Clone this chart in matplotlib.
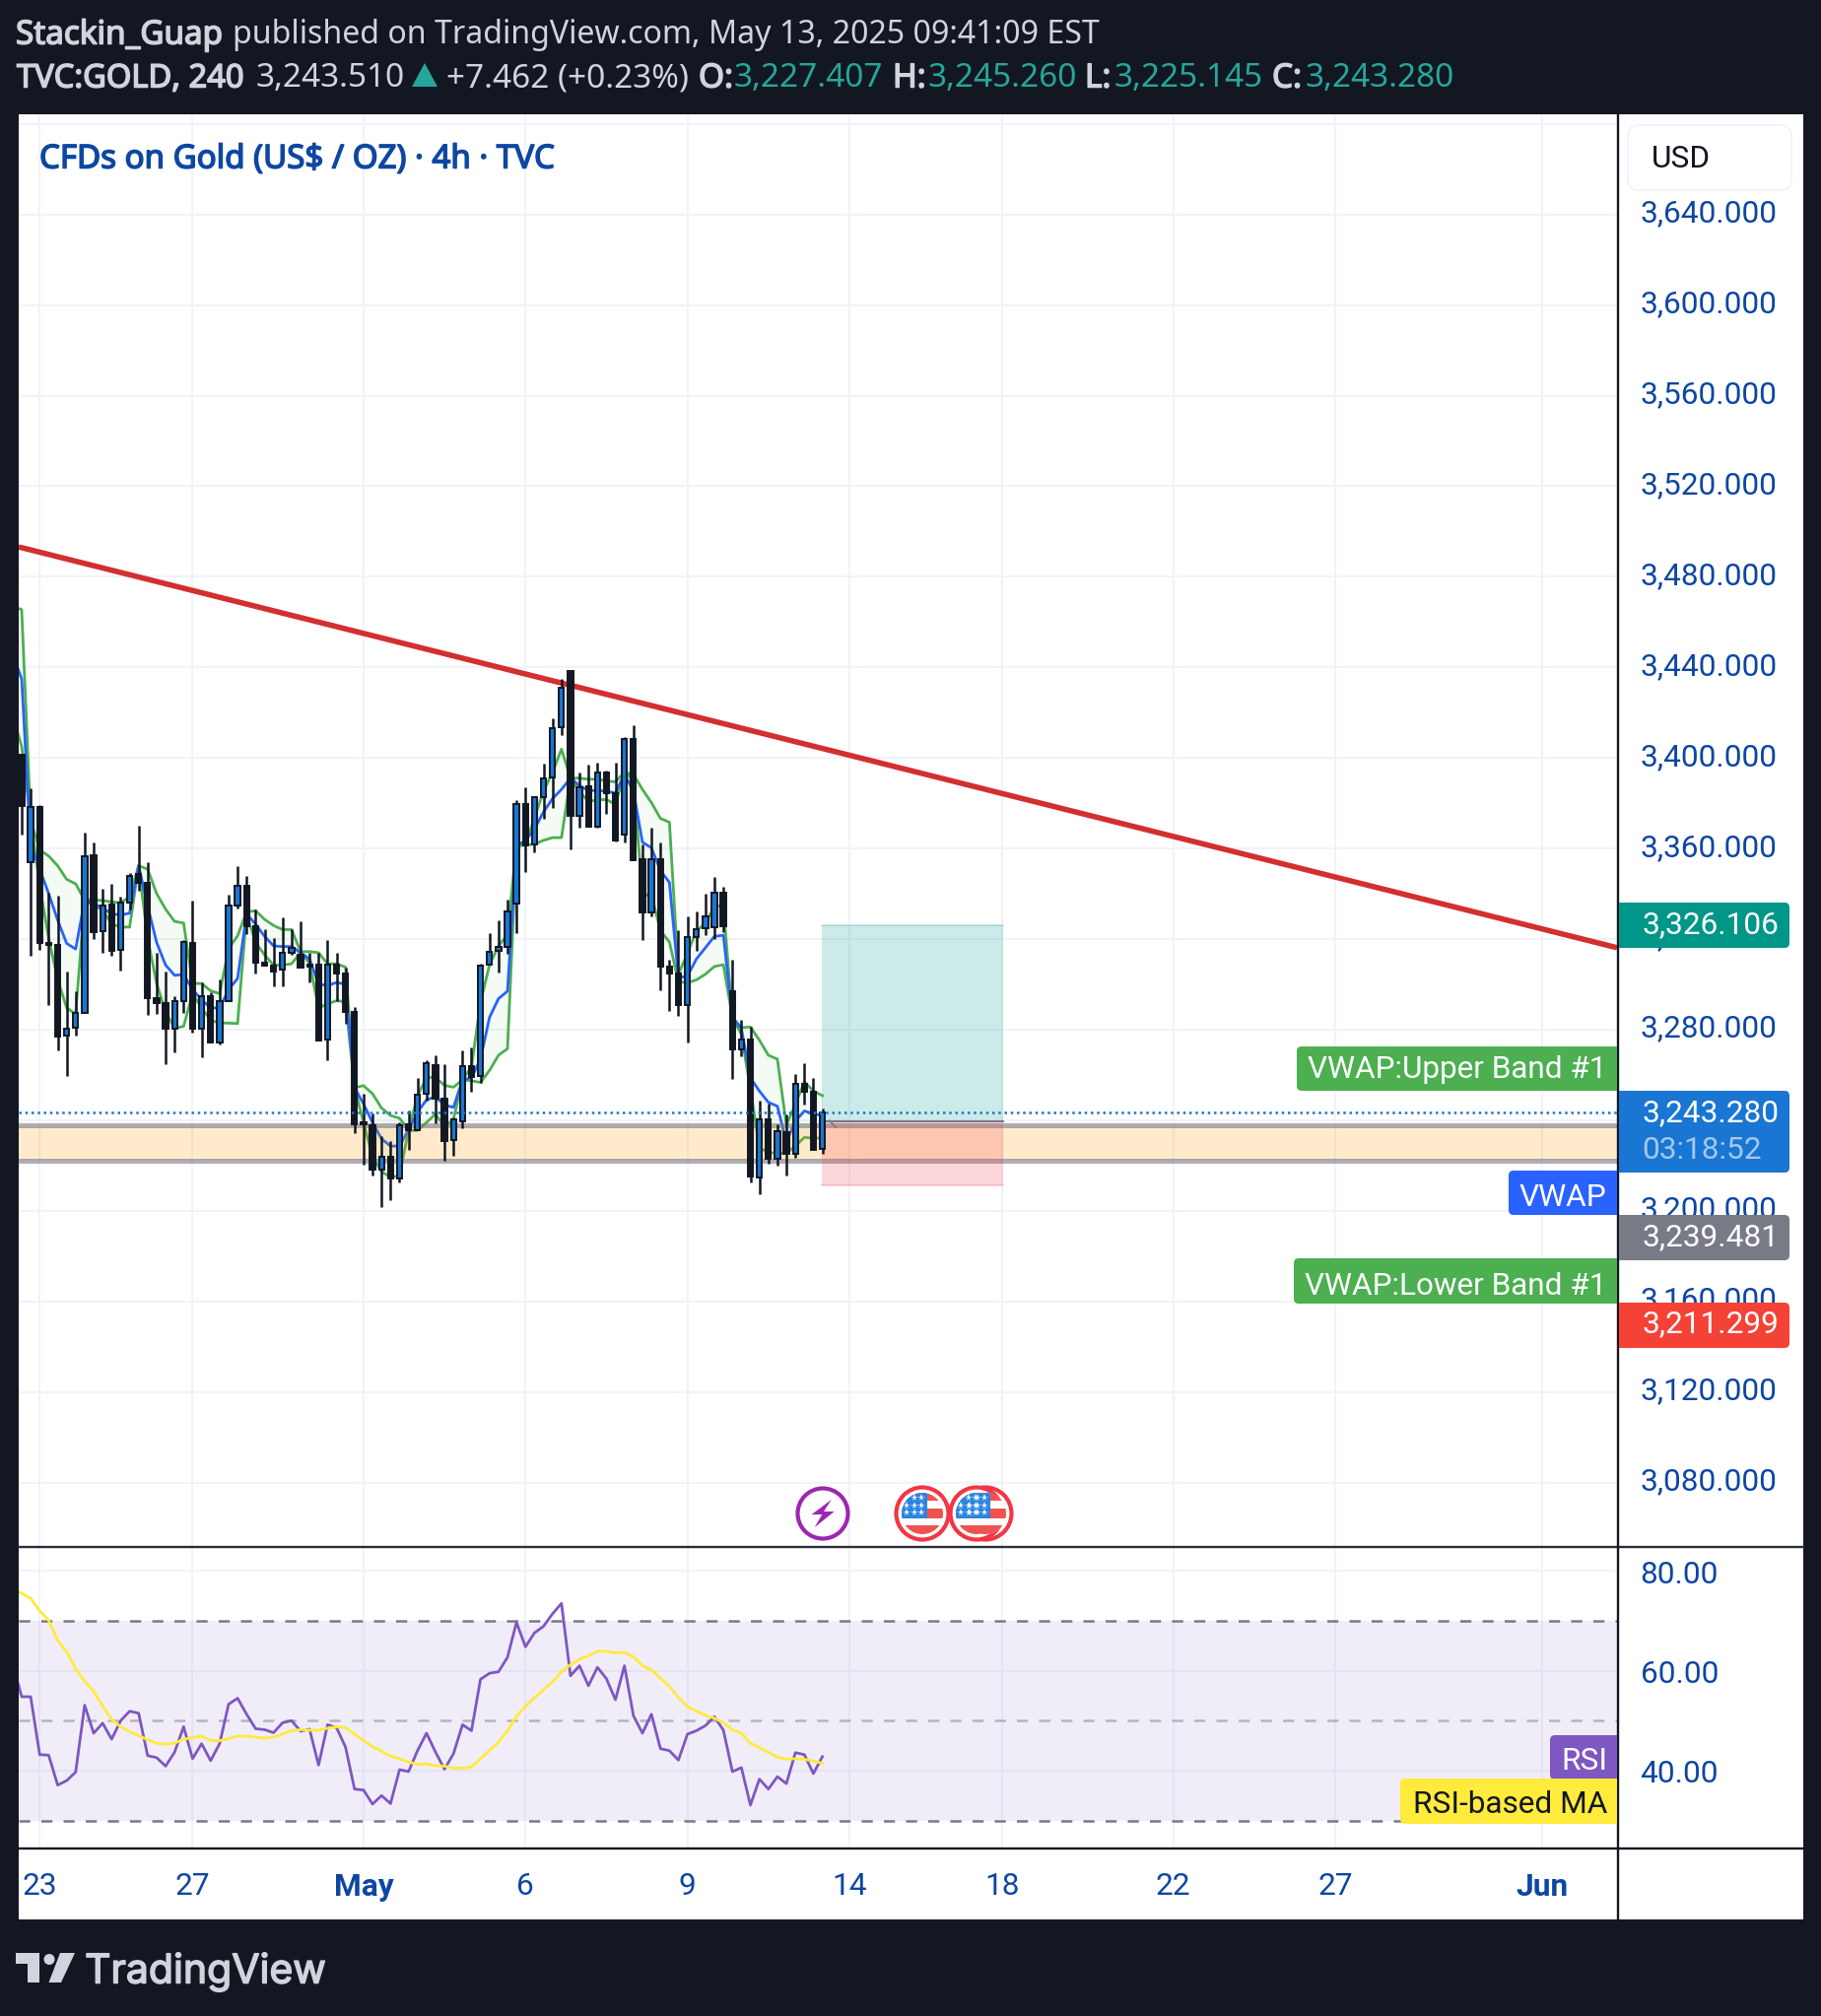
import numpy as np
import matplotlib
matplotlib.use("Agg")
import matplotlib.pyplot as plt
import matplotlib.patheffects as pe
from matplotlib.patches import Rectangle, FancyBboxPatch, Circle, Polygon
from matplotlib.transforms import ScaledTranslation

W, H = 1849, 2046
BG = "#131722"
TICK = "#0d47a1"
GRID = "#f0f3fa"

opens = [3401.4,3353.8,3378.5,3318.5,3317.4,3277.3,3280.9,3287.2,3356.9,3323.3,
 3335.4,3315.2,3336.3,3348.8,3345,3294.1,3291.8,3280.6,3292.8,3318.5,
 3280.6,3294.6,3274.3,3292.8,3334.9,3343.4,3325.8,3309.8,3308.5,3306.4,
 3313.8,3313,3308.9,3308.9,3275.5,3308.9,3304.9,3287.8,3238.9,3237.8,
 3218.2,3223.9,3214.4,3238.4,3235.8,3251.7,3264.3,3249.7,3231.1,3239.4,
 3264.1,3259.6,3308.6,3314.7,3316.7,3335.8,3379.5,3361.8,3382.6,3391.4,
 3413.4,3438.2,3374.3,3387.3,3369.5,3393.6,3384.3,3366.1,3408.3,3355.1,
 3331.7,3355.3,3307.7,3304.7,3290.7,3320.8,3325,3325.3,3340.7,3297,
 3271.5,3275.7,3214.8,3240.6,3222.8,3234.6,3225.1,3256.2,3252.7,3227.407]
closes = [3378.9,3378.5,3318.5,3317.4,3277.1,3280.6,3287.4,3356.7,3323.1,3334.9,
 3314.8,3336,3347.7,3345,3294.1,3291.9,3280.6,3292.8,3318.6,3280.6,
 3294.6,3274.3,3292.7,3334.9,3343.4,3325.7,3309.8,3308.5,3305.8,3313.8,
 3316.3,3307.5,3308,3275.3,3308.9,3304.9,3287.8,3238.4,3238.4,3218.3,
 3223.9,3214.2,3238,3235.8,3251.3,3265.1,3249.7,3230.9,3240.2,3264.1,
 3259.2,3308.5,3314.5,3316.7,3332.3,3379.5,3361.5,3382.5,3391.1,3413.3,
 3430.8,3374.3,3387,3369.5,3393.6,3384.5,3363.6,3408.3,3355,3331.7,
 3355.3,3308,3304.7,3290.7,3321,3324.5,3330.2,3340.7,3325.8,3271.5,
 3275.7,3215.1,3240.6,3222.8,3235.2,3225.1,3256.2,3252.7,3227.1,3243.28]
highs = [3401.4,3386.5,3379.4,3340.5,3339.2,3305.5,3296.8,3367.2,3362.8,3342.4,
 3344.3,3338.7,3349.3,3370.2,3353.8,3314.1,3305.8,3294.6,3319.4,3337.2,
 3300.8,3296.4,3302,3339.7,3352.4,3348,3333.2,3324.6,3320.6,3329.8,
 3324.6,3327.7,3314.1,3314.1,3319.4,3314.1,3307.5,3290.1,3251.5,3242.9,
 3232.8,3231,3239.1,3244.1,3258.6,3266.7,3268.8,3264.6,3241.1,3270.7,
 3272.1,3309,3322.5,3328.5,3337.3,3381.3,3387,3383,3397.3,3417.4,
 3434.7,3438.2,3393.4,3396.9,3397.8,3394.3,3397.8,3409.4,3414.3,3361.6,
 3369,3362.5,3310.7,3323.8,3330,3332,3340,3347.3,3343,3310.7,
 3284.5,3281.5,3248.6,3247.4,3238.4,3242.7,3260.4,3265.1,3258.6,3245.26]
lows = [3366.3,3312.7,3315.2,3291,3271,3259.6,3277.5,3287.2,3320.1,3314.1,
 3312.5,3306.2,3333.2,3341.5,3286.7,3287.1,3264.9,3270.1,3287.6,3278.8,
 3267.9,3274.3,3273.4,3292.8,3333.6,3322.4,3304.6,3308.5,3299.3,3299.3,
 3313.2,3307.5,3301,3275,3266.7,3292.5,3282.7,3234.4,3220.5,3215.8,
 3201.7,3204.8,3212.7,3227,3235.5,3248.5,3238.5,3222.3,3224.1,3236.6,
 3252.7,3256.7,3308.6,3305.4,3313.7,3322.8,3349.8,3358.5,3373,3378.1,
 3409.9,3359.8,3369.3,3369.5,3369.1,3375.5,3363.3,3362.8,3354.8,3319.8,
 3330.2,3297.5,3288.4,3286.2,3274.5,3314.8,3321.8,3320.2,3323.2,3258.4,
 3268.1,3212.6,3207.4,3220.8,3220.1,3215.8,3223.3,3247.1,3227.1,3225.145]

# first value of each study series belongs to the bar just off the left edge
vwap_upper = [3467,3465.5,3372.6,3359.4,3356.7,3352.4,3346.4,3344.4,3337.2,3337.4,3337,
 3336.5,3336,3338.7,3352.4,3350.9,3340.1,3333.2,3327.8,3327.1,3300.4,
 3300.4,3297.2,3295.9,3315.7,3321.5,3332,3332.5,3328.7,3326,3324.2,
 3324.2,3314.5,3314.5,3314,3309.1,3309.1,3307.6,3254.4,3255.3,3251.7,
 3245.4,3242.1,3240.9,3235.8,3250.8,3258.9,3258.9,
 3255.4,3254.6,3257.9,3263.7,3292,3308.7,3317,3322,3362,3362,
 3373.6,3385.3,3393.6,3403.9,3391.1,3391.1,3390.6,3390.6,3389.8,3389.5,
 3393.6,3392.8,3386.1,3380.3,3373.3,3371.6,3304.5,3313.7,3323.7,3327,
 3334.5,3334.8,3285.4,3280.9,3281.2,3275.4,3268.7,3267,3237.9,3247.1,
 3257,3252.9,3250.9]
vwap_lower = [3419,3405,3372.6,3343.7,3320.3,3302.2,3289.6,3286.9,3337.4,3334.7,3332.9,
 3326.6,3325.3,3325.3,3352.4,3320.3,3300.4,3287.8,3280.6,3281.5,3295.9,
 3289.6,3284.2,3282.9,3282.9,3282.7,3331.1,3318.5,3313,3308.5,3308.5,
 3309.1,3314,3309.4,3289.6,3291.4,3292.8,3292.3,3254.4,3239,3223.7,
 3217.4,3214.7,3215.6,3235.5,3235.5,3239,3242.7,
 3237.1,3240.4,3257.9,3257.4,3256.7,3262,3268.7,3271.6,3361.1,3361.5,
 3362,3363.6,3364.8,3364.8,3391.1,3385.3,3380.6,3381.6,3381.6,3379.5,
 3393.6,3390.3,3339.5,3339.5,3323.7,3318.7,3301.2,3300.7,3302,3304.5,
 3307.9,3308.7,3285.4,3277.9,3253.7,3227.9,3225.8,3225.4,3225.4,3228.7,
 3232.4,3232.1,3232.1]
vwap_mid = [3446,3434.8,3361.8,3350.9,3340.1,3328.4,3318.1,3315.6,3337.2,3335.6,3333.8,
 3331.1,3330.7,3331.4,3352.4,3334.7,3318.5,3308.5,3304,3304.4,3297.7,
 3293.2,3289.6,3289.6,3297.7,3302.6,3331.1,3326.6,3321.2,3317,3316.7,
 3316.7,3314,3311.2,3300.1,3299.5,3300.8,3300.1,3254.4,3247.2,3239,
 3231.8,3228.6,3228.6,3235.8,3243.6,3249,3250.4,
 3246.7,3245.7,3257.9,3258.7,3267,3285.4,3293.7,3297,3361.1,3363.6,
 3368.6,3376.1,3382,3386.1,3391.1,3387.8,3385.6,3385.6,3385.3,3384.5,
 3392.8,3385.3,3362.8,3360.3,3350.3,3345,3302.9,3303.7,3311.2,3316.2,
 3321.2,3321.7,3285.4,3280.4,3258.7,3252.9,3247.9,3246.2,3230.4,3239.6,
 3244.1,3242.9,3242.1]
rsi = [61.4,54.8,54.8,43.2,43.1,37.1,38,39.7,53.1,47.5,49.5,
 46.3,50,51.9,51.5,43,42.6,40.9,43.7,48.8,42.4,
 45.4,42,45.4,53.3,54.5,51.3,48.4,48.2,47.6,49.6,
 50,47.9,48.3,41.1,49.2,48.6,44.7,36.3,36.1,33.3,
 35,33.4,40.2,39.8,44,47.5,43.7,40.3,43.4,49.2,
 48,58.3,59.5,59.8,62.7,69.7,64.8,67.6,68.9,71.4,
 73.5,59,61,57,60.7,58.4,54.2,61,51,47.5,
 51.3,44.4,44,42.1,47.3,48,49,50.8,48.1,39.8,
 40.6,33.1,38.3,36.3,38.8,37.4,43.6,43.2,39.4,42.8]
rsi_ma = [76.6,75.5,74.5,72,70.1,66.1,63.8,60.4,57.9,55.9,
 52.9,50.3,48.8,47.8,47,46.2,45.5,45.3,45.5,46.3,
 46.6,46.9,46,46,46.4,46.9,46.9,46.7,46.5,46.7,
 47.3,48,48.2,48.1,48.1,48.5,48.8,48.6,47.3,46,
 44.8,43.9,42.9,42.4,41.7,41.3,41.3,41,40.9,40.5,
 40.5,40.7,42.4,44,45.7,48,50.9,52.9,54.6,56.2,
 57.7,59.8,61.2,62.3,63,63.9,63.9,63.6,63.7,62.8,
 61,60.2,58.5,56.9,54.6,52.8,51.9,51.1,50.5,49.6,
 48.2,47.5,45.5,44.6,43.7,42.7,42.3,42.4,42.3,41.9,41.5]

price_ticks = list(range(3080, 3681, 40))
rsi_ticks = [40, 60, 80]
date_ticks = [2, 19, 38, 56, 74, 92, 109, 128, 146, 169]
date_labels = ["23", "27", "May", "6", "9", "14", "18", "22", "27", "Jun"]
bold_dates = ["May", "Jun"]

trend_x = [-0.33, 177.33]
trend_y = [3493.2, 3316.2]
zone_top, zone_bottom = 3237.7, 3222.0
last_close = 3243.28
pos_x = [88.9, 109.1]
pos_target, pos_entry, pos_stop = 3326.106, 3239.481, 3211.299

plt.rcParams["font.family"] = ["Roboto", "DejaVu Sans"]
fig = plt.figure(figsize=(W / 100, H / 100), dpi=100, facecolor=BG)


def axes_px(x0, y0, x1, y1, **kw):
    return fig.add_axes([x0 / W, 1 - y1 / H, (x1 - x0) / W, (y1 - y0) / H], **kw)


XL = (-0.329, 177.33)
# white chart card
fig.patches.append(Rectangle((19 / W, 1 - 1948 / H), (1830 - 19) / W, (1948 - 116) / H,
                             transform=fig.transFigure, fc="white", ec="none", zorder=-5))

ax = axes_px(19, 116, 1641, 1570)
ax2 = axes_px(19, 1570, 1641, 1876)
for a in (ax, ax2):
    for s in a.spines.values():
        s.set_visible(False)
    a.set_xlim(*XL)
    a.set_xticks(date_ticks)
    a.yaxis.tick_right()
    a.grid(True, color=GRID, lw=1.5, zorder=0)
    a.set_axisbelow(True)
    a.tick_params(axis="y", length=0, pad=17, labelsize=22.8, labelcolor=TICK)
ax.set_ylim(3051.54, 3684.26)
ax2.set_ylim(24.4, 84.8)

ax.tick_params(axis="x", length=0, labelbottom=False)
ax.set_yticks(price_ticks)
ax.set_yticklabels([f"{v:,.3f}" if v < 3680 else "" for v in price_ticks])
ax2.set_yticks(rsi_ticks)
ax2.set_yticklabels([f"{v:.2f}" for v in rsi_ticks])
ax2.set_xticklabels(date_labels)
ax2.tick_params(axis="x", length=0, pad=17, labelsize=22.8, labelcolor=TICK)
for t in ax2.get_xticklabels():
    if t.get_text() in bold_dates:
        t.set_fontweight("bold")
shift_up = ScaledTranslation(0, 4 / 100, fig.dpi_scale_trans)
shift_dn = ScaledTranslation(0, -1 / 100, fig.dpi_scale_trans)
for t in ax.get_yticklabels():
    t.set_transform(t.get_transform() + shift_up)
for t in ax2.get_yticklabels():
    t.set_transform(t.get_transform() + shift_dn)

xs = np.arange(len(opens))
xl = np.arange(-1, len(opens))

ax.plot(trend_x, trend_y, color="#d32f2f", lw=4.0, zorder=2.5, solid_capstyle="butt")
ax.fill_between(xl, vwap_upper, vwap_lower, color="#4caf50", alpha=0.06, lw=0, zorder=2)
ax.plot(xl, vwap_upper, color="#4caf50", lw=2.0, zorder=2.2)
ax.plot(xl, vwap_lower, color="#4caf50", lw=2.0, zorder=2.2)
ax.plot(xl, vwap_mid, color="#2962ff", lw=2.0, zorder=2.3)

ax.axhspan(zone_bottom, zone_top, color="#ff9800", alpha=0.2, lw=0, zorder=3)
ax.axhline(zone_top, color="#787b86", alpha=0.6, lw=3.6, zorder=3.1)
ax.axhline(zone_bottom, color="#787b86", alpha=0.6, lw=3.6, zorder=3.1)

ax.add_patch(Rectangle((pos_x[0], pos_entry), pos_x[1] - pos_x[0], pos_target - pos_entry,
                       fc="#009688", alpha=0.2, lw=0, zorder=3.5))
ax.add_patch(Rectangle((pos_x[0], pos_stop), pos_x[1] - pos_x[0], pos_entry - pos_stop,
                       fc="#f23645", alpha=0.2, lw=0, zorder=3.5))
ax.plot(pos_x, [pos_entry, pos_entry], color="#787b86", lw=1.5, zorder=3.6)
ax.plot(pos_x, [pos_stop, pos_stop], color="#f23645", alpha=0.25, lw=1.2, zorder=3.6)
ax.plot(pos_x, [pos_target, pos_target], color="#009688", alpha=0.25, lw=1.2, zorder=3.6)
ax.plot([89.8, 90.5], [3239.8, 3236.9], color="#787b86", lw=1.3, zorder=3.6)

ax.axhline(last_close, color="#1976d2", lw=1.8, ls=(0, (1, 1.5)), zorder=6)

DOWN = BG
UP = "#1976d2"
colors = [UP if c >= o else DOWN for o, c in zip(opens, closes)]
ax.vlines(xs, lows, highs, color=DOWN, lw=1.8, zorder=5)
ax.bar(xs, np.array(closes) - np.array(opens), bottom=opens, width=0.58,
       color=colors, edgecolor=DOWN, linewidth=1.4, zorder=5.2)

ax2.axhspan(30, 70, color="#7e57c2", alpha=0.1, lw=0, zorder=1)
ax2.axhline(70, color="#787b86", lw=1.8, ls=(0, (4.5, 4.5)), zorder=2)
ax2.axhline(50, color="#787b86", alpha=0.5, lw=1.8, ls=(0, (4.5, 4.5)), zorder=2)
ax2.axhline(30, color="#787b86", lw=1.8, ls=(0, (4.5, 4.5)), zorder=2)
ax2.plot(xl, rsi, color="#7e57c2", lw=2.0, zorder=3)
ax2.plot(xl, rsi_ma, color="#ffeb3b", lw=2.0, zorder=3.1)

# overlay in pixel coordinates for the page furniture
ov = fig.add_axes([0, 0, 1, 1], zorder=10)
ov.set_xlim(0, W)
ov.set_ylim(H, 0)
ov.axis("off")
ov.patch.set_alpha(0)


def badge(x0, y0, x1, y1, color, square):
    ov.add_patch(FancyBboxPatch((x0, y0), x1 - x0, y1 - y0,
                                boxstyle="round,pad=0,rounding_size=5", fc=color, ec="none", zorder=5))
    if square == "right":
        ov.add_patch(Rectangle((x1 - 8, y0), 8, y1 - y0, fc=color, ec="none", zorder=5))
    else:
        ov.add_patch(Rectangle((x0, y0), 8, y1 - y0, fc=color, ec="none", zorder=5))


def txt(x, y, s, color="white", size=22.8, bold=False, ha="left", family=None, z=6, weight="normal"):
    t = ov.text(x, y, s, color=color, fontsize=size, fontweight=weight, ha=ha, va="center_baseline",
                family=family or "Roboto", zorder=z)
    if bold:
        t.set_path_effects([pe.withStroke(linewidth=1.1, foreground=color)])
    return t


# frame lines
ov.plot([19, 1830], [1570, 1570], color="#2a2e39", lw=1.7, zorder=4)
ov.plot([19, 1830], [1876, 1876], color=BG, lw=1.7, zorder=4)
ov.plot([1642, 1642], [116, 1948], color=BG, lw=1.7, zorder=4)

# USD box
ov.add_patch(FancyBboxPatch((1652, 127), 166, 66, boxstyle="round,pad=0,rounding_size=11",
                            fc="white", ec=GRID, lw=1.2, zorder=3))
txt(1676, 158, "USD", color=BG)

# axis badges
badge(1643, 916, 1816, 962, "#009688", "left")
txt(1666, 936, "3,326.106")
badge(1643, 1107, 1816, 1190, "#1976d2", "left")
txt(1666, 1127, "3,243.280")
txt(1666, 1164, "03:18:52", color="#a3c8ed")
badge(1643, 1233, 1816, 1279, "#787b86", "left")
txt(1666, 1253, "3,239.481")
badge(1643, 1322, 1816, 1368, "#f44336", "left")
txt(1666, 1341, "3,211.299")

# study labels
badge(1316, 1062, 1641, 1107, "#4caf50", "right")
txt(1327, 1083, "VWAP:Upper Band #1", size=22.7)
badge(1531, 1188, 1641, 1233, "#2962ff", "right")
txt(1542, 1212, "VWAP")
badge(1313, 1277, 1641, 1323, "#4caf50", "right")
txt(1324, 1302, "VWAP:Lower Band #1", size=22.7)
badge(1573, 1761, 1641, 1806, "#7e57c2", "right")
txt(1584, 1784, "RSI")
badge(1421, 1805, 1641, 1851, "#ffeb3b", "right")
txt(1434, 1829, "RSI-based MA", color=BG)

# header
NS = "Noto Sans"
HC = "#d1d4dc"
GR = "#26a69a"
txt(16, 32, "Stackin_Guap", color=HC, size=23.9, bold=True, family=NS)
txt(236, 32, "published on TradingView.com, May 13, 2025 09:41:09 EST", color=HC, size=23.1, family=NS)
txt(17, 76, "TVC:GOLD, 240", color=HC, size=23.5, bold=True, family=NS)
txt(260, 76, "3,243.510", color=HC, size=24, family=NS)
ov.add_patch(Polygon([[418, 88], [444, 88], [431, 64]], fc=GR, ec="none"))
txt(453, 76, "+7.462 (+0.23%)", color=HC, size=24, family=NS)
for x0, lab, x1, val in [(709, "O:", 745, "3,227.407"), (906, "H:", 942, "3,245.260"),
                         (1101, "L:", 1131, "3,225.145"), (1291, "C:", 1325, "3,243.280")]:
    txt(x0, 76, lab, color=HC, size=24, bold=True, family=NS)
    txt(x1, 76, val, color=GR, size=24, family=NS)
txt(40, 158, "CFDs on Gold (US$ / OZ) · 4h · TVC", color=TICK, size=23.8, bold=True, family=NS)


# event icons
def flag(cx, cy):
    ov.add_patch(Circle((cx, cy), 26.5, fc="white", ec="#f23645", lw=3, zorder=3))
    clip = Circle((cx, cy), 21, fc="white", ec="none", zorder=3.1)
    ov.add_patch(clip)
    for y0, y1 in [(-21, -13), (-5, 4.5), (12, 21)]:
        r = Rectangle((cx - 21, cy + y0), 42, y1 - y0, fc="#ef5350", ec="none", zorder=3.2)
        ov.add_patch(r)
        r.set_clip_path(clip)
    c = Rectangle((cx - 21, cy - 21), 26, 25.5, fc="#2a85e0", ec="none", zorder=3.3)
    ov.add_patch(c)
    c.set_clip_path(clip)
    for dy in (-16, -8, -1):
        for dx in (-16, -8.3, -1):
            if dy == -16 and dx == -16:
                continue
            ov.plot(cx + dx, cy + dy, marker="*", ms=5.5, mfc="white", mec="white", mew=0, zorder=3.4)


flag(936, 1536)
flag(1000, 1536)
flag(991, 1536)
ov.add_patch(Circle((835, 1536), 25.5, fc="white", ec="#9c27b0", lw=3, zorder=3))
bolt = [[843.7, 1522], [823.7, 1537], [834.3, 1537], [826.7, 1550], [846.7, 1534], [836, 1534]]
ov.add_patch(Polygon(bolt, fc="#9c27b0", ec="none", zorder=3.1))

# footer logo
ov.add_patch(Polygon([[16, 1982], [40, 1982], [40, 2012], [28, 2012], [28, 1993], [16, 1993]], fc=HC, ec="none"))
ov.add_patch(Circle((50, 1988.5), 5.5, fc=HC, ec="none"))
ov.add_patch(Polygon([[61, 1982], [76, 1982], [62, 2012], [49.5, 2012]], fc=HC, ec="none"))
txt(86, 1997, "TradingView", color=HC, size=29.5, bold=True, family="Inter")

fig.savefig("out.png", dpi=100, facecolor=BG)
